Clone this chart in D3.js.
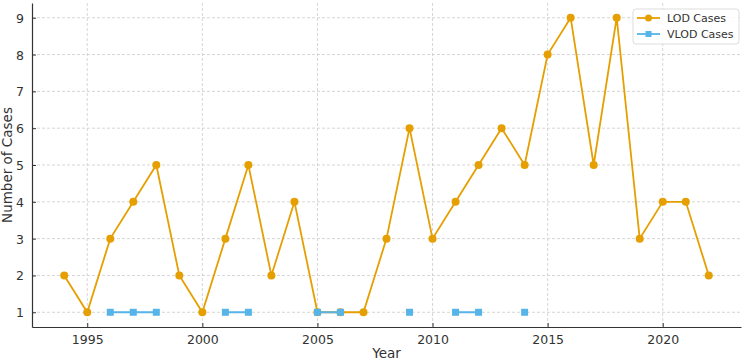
<!DOCTYPE html>
<html>
<head>
<meta charset="utf-8">
<script src="https://cdn.jsdelivr.net/npm/d3@7"></script>
<style>
  body { margin: 0; background: #fff; }
  text { font-family: "DejaVu Sans", sans-serif; fill: #333; }
</style>
</head>
<body>
<div id="chart"></div>
<script>
// yearly counts
var years = [1994, 1995, 1996, 1997, 1998, 1999, 2000, 2001, 2002, 2003, 2004, 2005, 2006, 2007,
	2008, 2009, 2010, 2011, 2012, 2013, 2014, 2015, 2016, 2017, 2018, 2019, 2020, 2021, 2022];
var lodCases = [2, 1, 3, 4, 5, 2, 1, 3, 5, 2, 4, 1, 1, 1,
	3, 6, 3, 4, 5, 6, 5, 8, 9, 5, 9, 3, 4, 4, 2];
// null = no VLOD case that year
var vlodCases = [null, null, 1, 1, 1, null, null, 1, 1, null, null, 1, 1, null,
	null, 1, null, 1, 1, null, 1, null, null, null, null, null, null, null, null];
var xTicks = [1995, 2000, 2005, 2010, 2015, 2020];
var yTicks = [1, 2, 3, 4, 5, 6, 7, 8, 9];

var W = 755, H = 362;
var margin = {top: 3, right: 14, bottom: 35, left: 32},
    width = W - margin.left - margin.right,
    height = H - margin.top - margin.bottom;

var lodColor = '#E69F00', vlodColor = '#56B4E9';

var svg = d3.select('#chart').append('svg')
	.attr('width', W).attr('height', H)
	.append('g')
	.attr('transform', 'translate(' + margin.left + ',' + margin.top + ')');

var x = d3.scaleLinear().domain([1992.6, 2023.4]).range([0, width]);
var y = d3.scaleLinear().domain([0.6, 9.4]).range([height, 0]);

// grid
svg.append('g').selectAll('line').data(xTicks).enter().append('line')
	.attr('x1', d => x(d)).attr('x2', d => x(d))
	.attr('y1', 0).attr('y2', height)
	.attr('stroke', '#ccc').attr('stroke-width', 0.8).attr('stroke-dasharray', '3,2');
svg.append('g').selectAll('line').data(yTicks).enter().append('line')
	.attr('y1', d => y(d)).attr('y2', d => y(d))
	.attr('x1', 0).attr('x2', width)
	.attr('stroke', '#ccc').attr('stroke-width', 0.8).attr('stroke-dasharray', '3,2');

// axes, ticks pointing inward
var xAxis = svg.append('g')
	.attr('transform', 'translate(0,' + height + ')')
	.call(d3.axisBottom(x).tickValues(xTicks).tickFormat(d3.format('d')).tickSizeInner(-4).tickSizeOuter(0).tickPadding(8));
var yAxis = svg.append('g')
	.call(d3.axisLeft(y).tickValues(yTicks).tickSizeInner(-4).tickSizeOuter(0).tickPadding(8));
[xAxis, yAxis].forEach(function(a) {
	a.select('.domain').attr('stroke', '#333').attr('stroke-width', 1.2);
	a.selectAll('.tick line').attr('stroke', '#333');
	a.selectAll('.tick text').style('font-size', '12.5px').attr('fill', '#333');
});
yAxis.selectAll('.tick text').attr('dy', '0.36em');

svg.append('text')
	.attr('x', width / 2).attr('y', height + 31)
	.attr('text-anchor', 'middle').style('font-size', '13.5px')
	.text('Year');
svg.append('text')
	.attr('transform', 'rotate(-90)')
	.attr('x', -height / 2).attr('y', -20)
	.attr('text-anchor', 'middle').style('font-size', '13.5px')
	.text('Number of Cases');

// series
var lodData = years.map((yr, i) => ({year: yr, v: lodCases[i]}));
var vlodData = years.map((yr, i) => ({year: yr, v: vlodCases[i]}));

var line = d3.line()
	.defined(d => d.v != null)
	.x(d => x(d.year)).y(d => y(d.v));

svg.append('path').datum(lodData).attr('d', line)
	.attr('fill', 'none').attr('stroke', lodColor).attr('stroke-width', 1.8);
svg.selectAll('.lod').data(lodData).enter().append('circle')
	.attr('class', 'lod')
	.attr('cx', d => x(d.year)).attr('cy', d => y(d.v))
	.attr('r', 4).attr('fill', lodColor);

svg.append('path').datum(vlodData).attr('d', line)
	.attr('fill', 'none').attr('stroke', vlodColor).attr('stroke-width', 1.8);
svg.selectAll('.vlod').data(vlodData.filter(d => d.v != null)).enter().append('rect')
	.attr('class', 'vlod')
	.attr('x', d => x(d.year) - 3.5).attr('y', d => y(d.v) - 3.5)
	.attr('width', 7).attr('height', 7).attr('fill', vlodColor);

// legend
var lg = svg.append('g').attr('transform', 'translate(' + (width - 108) + ',6)');
lg.append('rect').attr('width', 106).attr('height', 35).attr('rx', 3)
	.attr('fill', 'rgba(255,255,255,0.85)').attr('stroke', '#ddd');
var items = [
	{name: 'LOD Cases', color: lodColor, shape: 'circle'},
	{name: 'VLOD Cases', color: vlodColor, shape: 'square'}
];
var li = lg.selectAll('.item').data(items).enter().append('g')
	.attr('transform', (d, i) => 'translate(0,' + (9 + i * 16) + ')');
li.append('line').attr('x1', 4).attr('x2', 27).attr('y1', 0).attr('y2', 0)
	.attr('stroke', d => d.color).attr('stroke-width', 1.8);
li.each(function(d) {
	var g = d3.select(this);
	if (d.shape == 'circle') {
		g.append('circle').attr('cx', 15.5).attr('cy', 0).attr('r', 3.5).attr('fill', d.color);
	} else {
		g.append('rect').attr('x', 12.5).attr('y', -3).attr('width', 6).attr('height', 6).attr('fill', d.color);
	}
});
li.append('text').attr('x', 34).attr('y', 0).attr('dy', '0.36em')
	.style('font-size', '11px').text(d => d.name);
</script>
</body>
</html>
